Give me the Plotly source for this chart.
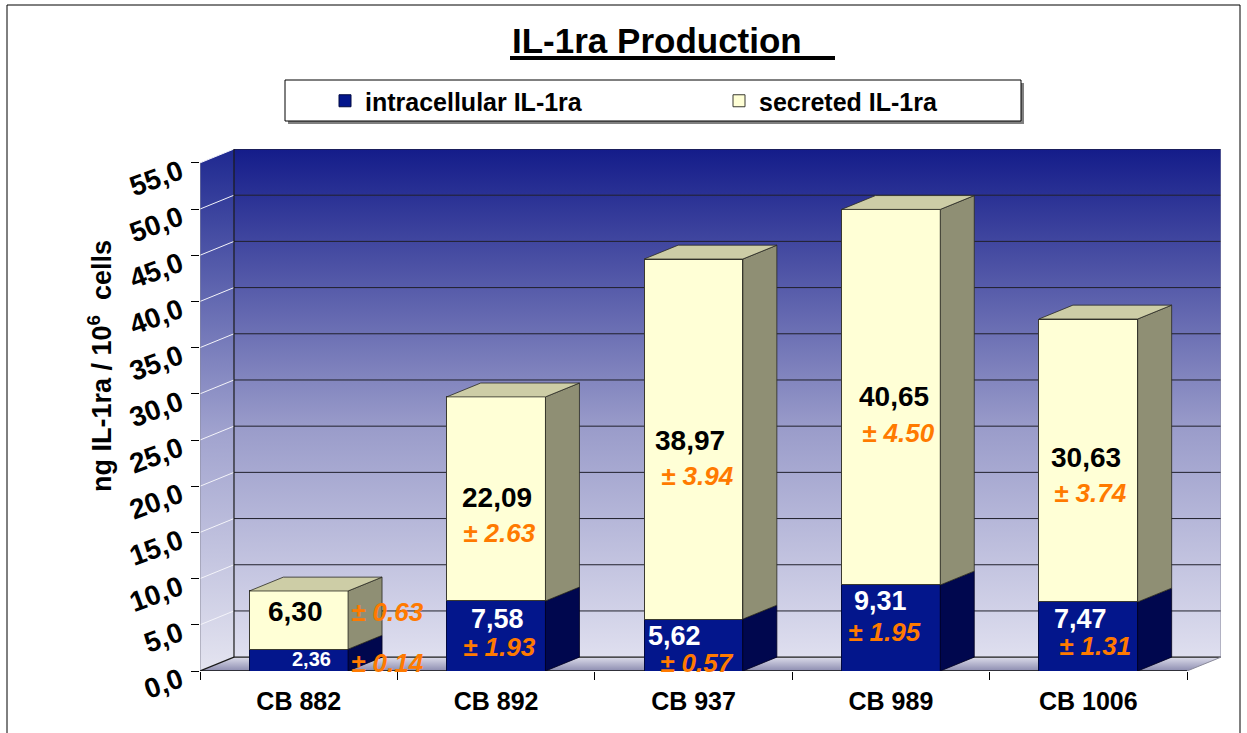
import plotly.graph_objects as go

# ---------------- data ----------------
categories = ["CB 882", "CB 892", "CB 937", "CB 989", "CB 1006"]
intracellular = [2.36, 7.58, 5.62, 9.31, 7.47]
intracellular_sd = [0.14, 1.93, 0.57, 1.95, 1.31]
secreted = [6.30, 22.09, 38.97, 40.65, 30.63]
secreted_sd = [0.63, 2.63, 3.94, 4.50, 3.74]
y_tick_values = [0, 5, 10, 15, 20, 25, 30, 35, 40, 45, 50, 55]
series_names = ["intracellular IL-1ra", "secreted IL-1ra"]
chart_title = "IL-1ra Production"
y_title = "ng IL-1ra / 10<sup>6</sup>  cells"

# ---------------- style / geometry ----------------
W, H = 1247, 733
L_PX, R_PX, T_PX, B_PX = 200, 1221, 149, 671
N = len(categories)
DX = 0.1722          # depth offset (category units)
DY = 1.5             # depth offset (value units)
YMAX = 55
XR = [0, N + DX]
YR = [0, YMAX + DY]
FONT = "Liberation Sans, Arial, sans-serif"

BLUE_FRONT = "#03168c"
BLUE_SIDE = "#00074e"
CREAM_FRONT = "#ffffd6"
CREAM_SIDE = "#8f8f74"
CREAM_TOP = "#cdcda6"
ORANGE = "#ff7a00"

# label placement (offset from bar centre in category units, value-axis y, anchor, size)
sec_num_pos = [(-0.014, 6.4, "center", 28), (0.005, 18.8, "center", 28), (-0.018, 25.0, "center", 28),
               (0.016, 29.7, "center", 28), (-0.012, 23.1, "center", 28)]
sec_sd_pos = [(0.255, 6.4, "left", 26), (0.015, 14.9, "center", 26), (0.018, 21.1, "center", 26),
              (0.036, 25.8, "center", 26), (0.009, 19.3, "center", 26)]
int_num_pos = [(0.067, 1.25, "center", 20), (0.005, 5.6, "center", 27), (-0.094, 3.8, "center", 27),
               (-0.055, 7.6, "center", 27), (-0.042, 5.6, "center", 27)]
int_sd_pos = [(0.255, 0.9, "left", 26), (0.015, 2.6, "center", 26), (0.018, 0.9, "center", 26),
              (-0.035, 4.2, "center", 26), (0.034, 2.7, "center", 26)]


def px_x(px):
    return (px - L_PX) / (R_PX - L_PX)


def px_y(py):
    return (B_PX - py) / (B_PX - T_PX)


fig = go.Figure()

# ---------------- walls & floor (base subplot) ----------------
wall_scale = [[0, "#dfdfef"], [0.45, "#9a9cca"], [1, "#141c8a"]]
fig.add_trace(go.Scatter(
    x=[DX, N + DX, N + DX, DX, DX], y=[DY, DY, YMAX + DY, YMAX + DY, DY],
    mode="lines", line=dict(width=0, color="rgba(0,0,0,0)"), fill="toself",
    fillgradient=dict(type="vertical", colorscale=wall_scale),
    showlegend=False, hoverinfo="skip"))
fig.add_trace(go.Scatter(
    x=[0, DX, DX, 0, 0], y=[0, DY, YMAX + DY, YMAX, 0],
    mode="lines", line=dict(width=0, color="rgba(0,0,0,0)"), fill="toself",
    fillgradient=dict(type="vertical", colorscale=[[0, "#e4e4f0"], [0.45, "#a2a4cf"], [1, "#1e2890"]]),
    showlegend=False, hoverinfo="skip"))
fig.add_trace(go.Scatter(
    x=[0, N, N + DX, DX, 0], y=[0, 0, DY, DY, 0],
    mode="lines", line=dict(width=0, color="rgba(0,0,0,0)"), fill="toself",
    fillgradient=dict(type="vertical", colorscale=[[0, "#8c8cb0"], [1, "#dcdcea"]]),
    showlegend=False, hoverinfo="skip"))

# back-wall gridlines
gx, gy = [], []
for v in y_tick_values[1:]:
    gx += [DX, N + DX, None]
    gy += [v + DY, v + DY, None]
fig.add_trace(go.Scatter(x=gx, y=gy, mode="lines", line=dict(color="#20202c", width=1),
                         showlegend=False, hoverinfo="skip"))
# side-wall gridlines
sx, sy = [], []
for v in y_tick_values[1:]:
    sx += [0, DX, None]
    sy += [v, v + DY, None]
fig.add_trace(go.Scatter(x=sx, y=sy, mode="lines", line=dict(color="#f4f4fa", width=1),
                         showlegend=False, hoverinfo="skip"))
# wall edges
fig.add_trace(go.Scatter(x=[DX, DX, None, DX, N + DX, None, 0, DX],
                         y=[DY, YMAX + DY, None, DY, DY, None, 0, DY],
                         mode="lines", line=dict(color="#1a1a1a", width=1.2),
                         showlegend=False, hoverinfo="skip"))
fig.add_trace(go.Scatter(x=[N + DX, N + DX, None, N, N + DX, None, 0, 0],
                         y=[DY, YMAX + DY, None, 0, DY, None, 0, YMAX],
                         mode="lines", line=dict(color="#8a8a9a", width=1),
                         showlegend=False, hoverinfo="skip"))
fig.add_trace(go.Scatter(x=[0, N], y=[0, 0], mode="lines", line=dict(color="#111111", width=1.5),
                         showlegend=False, hoverinfo="skip"))

# ---------------- bars (overlay subplot) ----------------
centers = [i + 0.5 for i in range(N)]
fig.add_trace(go.Bar(x=centers, y=intracellular, width=0.5, name=series_names[0],
                     marker=dict(color=BLUE_FRONT, line=dict(color="#000840", width=1)),
                     xaxis="x2", yaxis="y2", hoverinfo="skip"))
fig.add_trace(go.Bar(x=centers, y=secreted, width=0.5, name=series_names[1],
                     marker=dict(color=CREAM_FRONT, line=dict(color="#3a3a30", width=1)),
                     xaxis="x2", yaxis="y2", hoverinfo="skip"))


def side_faces(bases, tops):
    xs, ys = [], []
    for i, (b, t) in enumerate(zip(bases, tops)):
        x0 = i + 0.75
        xs += [x0, x0 + DX, x0 + DX, x0, x0, None]
        ys += [b, b + DY, t + DY, t, b, None]
    return xs, ys


totals = [a + b for a, b in zip(intracellular, secreted)]
bx, by = side_faces([0] * N, intracellular)
fig.add_trace(go.Scatter(x=bx, y=by, mode="lines", fill="toself", fillcolor=BLUE_SIDE,
                         line=dict(color="#000020", width=0.8), xaxis="x2", yaxis="y2",
                         showlegend=False, hoverinfo="skip"))
cx, cy = side_faces(intracellular, totals)
fig.add_trace(go.Scatter(x=cx, y=cy, mode="lines", fill="toself", fillcolor=CREAM_SIDE,
                         line=dict(color="#2a2a22", width=0.8), xaxis="x2", yaxis="y2",
                         showlegend=False, hoverinfo="skip"))
tx, ty = [], []
for i, t in enumerate(totals):
    tx += [i + 0.25, i + 0.75, i + 0.75 + DX, i + 0.25 + DX, i + 0.25, None]
    ty += [t, t, t + DY, t + DY, t, None]
fig.add_trace(go.Scatter(x=tx, y=ty, mode="lines", fill="toself", fillcolor=CREAM_TOP,
                         line=dict(color="#2a2a22", width=0.8), xaxis="x2", yaxis="y2",
                         showlegend=False, hoverinfo="skip"))

# ---------------- value labels ----------------
annotations = []


def fmt_comma(v):
    return f"{v:.2f}".replace(".", ",")


for i in range(N):
    c = centers[i]
    dx_, yv, anc, sz = sec_num_pos[i]
    annotations.append(dict(x=c + dx_, y=yv, xref="x2", yref="y2", text=f"<b>{fmt_comma(secreted[i])}</b>",
                            showarrow=False, xanchor=anc, yanchor="middle",
                            font=dict(family=FONT, size=sz, color="#000000")))
    dx_, yv, anc, sz = sec_sd_pos[i]
    annotations.append(dict(x=c + dx_, y=yv, xref="x2", yref="y2",
                            text=f"<b><i>± {secreted_sd[i]:.2f}</i></b>",
                            showarrow=False, xanchor=anc, yanchor="middle",
                            font=dict(family=FONT, size=sz, color=ORANGE)))
    dx_, yv, anc, sz = int_num_pos[i]
    annotations.append(dict(x=c + dx_, y=yv, xref="x2", yref="y2", text=f"<b>{fmt_comma(intracellular[i])}</b>",
                            showarrow=False, xanchor=anc, yanchor="middle",
                            font=dict(family=FONT, size=sz, color="#ffffff")))
    dx_, yv, anc, sz = int_sd_pos[i]
    annotations.append(dict(x=c + dx_, y=yv, xref="x2", yref="y2",
                            text=f"<b><i>± {intracellular_sd[i]:.2f}</i></b>",
                            showarrow=False, xanchor=anc, yanchor="middle",
                            font=dict(family=FONT, size=sz, color=ORANGE)))

# title and y-axis title
annotations.append(dict(x=px_x(510), y=px_y(40), xref="paper", yref="paper", text=f"<b>{chart_title}</b>",
                        showarrow=False, xanchor="left", yanchor="middle",
                        font=dict(family=FONT, size=35, color="#000000")))
annotations.append(dict(x=px_x(100), y=px_y(366), xref="paper", yref="paper", text=f"<b>{y_title}</b>",
                        showarrow=False, xanchor="center", yanchor="middle", textangle=-90,
                        font=dict(family=FONT, size=27, color="#000000")))

shapes = [
    # outer chart border
    dict(type="rect", xref="paper", yref="paper", x0=px_x(7), x1=px_x(1240), y0=px_y(745), y1=px_y(5),
         line=dict(color="#000000", width=1), layer="below"),
    # legend shadow + box
    dict(type="rect", xref="paper", yref="paper", x0=px_x(288), x1=px_x(1024), y0=px_y(124), y1=px_y(83),
         line=dict(width=0), fillcolor="#808080", layer="below"),
    dict(type="rect", xref="paper", yref="paper", x0=px_x(285), x1=px_x(1021), y0=px_y(121), y1=px_y(80),
         line=dict(color="#000000", width=1), fillcolor="#ffffff", layer="below"),
    # title underline
    dict(type="line", xref="paper", yref="paper", x0=px_x(510), x1=px_x(835), y0=px_y(58), y1=px_y(58),
         line=dict(color="#000000", width=4)),
]

fig.update_layout(
    width=W, height=H,
    margin=dict(l=L_PX, r=W - R_PX, t=T_PX, b=H - B_PX, pad=0),
    paper_bgcolor="#ffffff", plot_bgcolor="rgba(0,0,0,0)",
    separators=",.",
    barmode="stack",
    showlegend=True,
    legend=dict(orientation="h", x=px_x(325), xanchor="left", y=px_y(101), yanchor="middle",
                bgcolor="rgba(0,0,0,0)", borderwidth=0, entrywidth=349, entrywidthmode="pixels",
                font=dict(family=FONT, size=25, color="#000000", weight="bold"), traceorder="normal"),
    xaxis=dict(range=XR, showgrid=False, zeroline=False, showline=False,
               tickmode="array", tickvals=centers, ticktext=categories,
               ticks="", ticklabelstandoff=13,
               tickfont=dict(family=FONT, size=25, color="#000000", weight="bold"), fixedrange=True),
    yaxis=dict(range=YR, showgrid=False, zeroline=False, showline=False,
               tickmode="array", tickvals=y_tick_values, tickformat=".1f",
               ticks="outside", ticklen=8, tickcolor="#000000", tickwidth=1,
               tickangle=-20, ticklabelshift=6, ticklabelstandoff=5,
               tickfont=dict(family=FONT, size=28, color="#000000", weight="bold"), fixedrange=True),
    xaxis2=dict(range=XR, overlaying="x", anchor="y2", side="bottom", showgrid=False, zeroline=False,
                showline=False, tickmode="array", tickvals=list(range(N + 1)), ticks="outside",
                ticklen=8, tickcolor="#000000", showticklabels=False, fixedrange=True),
    yaxis2=dict(range=YR, overlaying="y", showgrid=False, zeroline=False, showline=False,
                showticklabels=False, ticks="", fixedrange=True),
    annotations=annotations,
    shapes=shapes,
)

fig.write_html("out.html", config={"displayModeBar": False},
               post_script="document.body.style.margin='0px';document.body.style.overflow='hidden';")
